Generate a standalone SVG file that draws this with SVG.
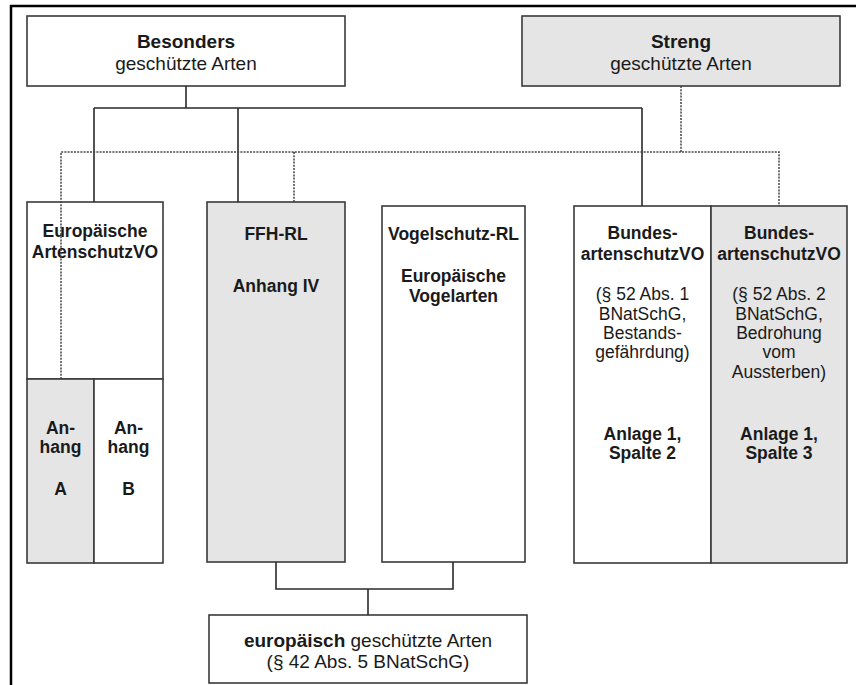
<svg xmlns="http://www.w3.org/2000/svg" width="856" height="685" viewBox="0 0 856 685">
<style>
text{font-family:"Liberation Sans",Arial,sans-serif;fill:#1a1a1a;text-anchor:middle}
.b{font-weight:bold}
.t{font-size:19px}
.m{font-size:17.5px}
.box{stroke:#3a3a3a;stroke-width:1.6;fill:#fff}
.g{fill:#e5e5e5}
.solid{stroke:#2a2a2a;stroke-width:1.6;fill:none}
.dot{stroke:#444;stroke-width:1.5;fill:none;stroke-dasharray:2 1.2}
</style>
<rect width="856" height="685" fill="#fff"/>
<g id="frame"><path d="M11,685 V6 H856" fill="none" stroke="#000" stroke-width="2.5"/></g>

<g id="besonders">
<rect class="box" x="27" y="16" width="318" height="70"/>
<text class="t b" x="186" y="48">Besonders</text>
<text class="t" x="186" y="70">geschützte Arten</text>
</g>
<g id="streng">
<rect class="box g" x="522" y="16" width="318" height="70"/>
<text class="t b" x="681" y="48">Streng</text>
<text class="t" x="681" y="70">geschützte Arten</text>
</g>

<g id="eu-artenschutz">
<rect class="box" x="27" y="202" width="136" height="177"/>
<text class="m b" x="95" y="237">Europäische</text>
<text class="m b" x="95" y="258">ArtenschutzVO</text>
</g>
<g id="anhang-a">
<rect class="box g" x="27" y="379" width="67" height="184"/>
<text class="m b" x="60.5" y="434">An-</text>
<text class="m b" x="60.5" y="453">hang</text>
<text class="m b" x="60.5" y="495">A</text>
</g>
<g id="anhang-b">
<rect class="box" x="94" y="379" width="69" height="184"/>
<text class="m b" x="128.5" y="434">An-</text>
<text class="m b" x="128.5" y="453">hang</text>
<text class="m b" x="128.5" y="495">B</text>
</g>
<g id="ffh">
<rect class="box g" x="207" y="202" width="138" height="360"/>
<text class="m b" x="276" y="240">FFH-RL</text>
<text class="m b" x="276" y="292">Anhang IV</text>
</g>
<g id="vogelschutz">
<rect class="box" x="382" y="206" width="143" height="356"/>
<text class="m b" x="453.5" y="240">Vogelschutz-RL</text>
<text class="m b" x="453.5" y="282">Europäische</text>
<text class="m b" x="453.5" y="302">Vogelarten</text>
</g>
<g id="bundes1">
<rect class="box" x="574" y="206" width="137" height="357"/>
<text class="m b" x="642.5" y="239">Bundes-</text>
<text class="m b" x="642.5" y="260">artenschutzVO</text>
<text class="m" x="642.5" y="300">(§ 52 Abs. 1</text>
<text class="m" x="642.5" y="320">BNatSchG,</text>
<text class="m" x="642.5" y="339">Bestands-</text>
<text class="m" x="642.5" y="358">gefährdung)</text>
<text class="m b" x="642.5" y="440">Anlage 1,</text>
<text class="m b" x="642.5" y="459">Spalte 2</text>
</g>
<g id="bundes2">
<rect class="box g" x="711" y="206" width="136" height="357"/>
<text class="m b" x="779" y="239">Bundes-</text>
<text class="m b" x="779" y="260">artenschutzVO</text>
<text class="m" x="779" y="300">(§ 52 Abs. 2</text>
<text class="m" x="779" y="320">BNatSchG,</text>
<text class="m" x="779" y="339">Bedrohung</text>
<text class="m" x="779" y="358">vom</text>
<text class="m" x="779" y="378">Aussterben)</text>
<text class="m b" x="779" y="440">Anlage 1,</text>
<text class="m b" x="779" y="459">Spalte 3</text>
</g>
<g id="europaeisch">
<rect class="box" x="209" y="615" width="318" height="68"/>
<text class="t" x="368" y="647"><tspan class="b">europäisch</tspan> geschützte Arten</text>
<text class="t" x="368" y="668">(§ 42 Abs. 5 BNatSchG)</text>
</g>

<g id="connectors">
<path class="solid" d="M186,86 V108 M94,108 H642 M94,108 V202 M238,108 V202 M642,108 V206"/>
<path class="dot" d="M681,86 V152" stroke-width="2.2"/>
<path class="dot" d="M61,379 V152 H779 V206 M294,152 V202"/>
<path class="solid" d="M276,562 V589 H453 V562 M368,589 V615"/>
</g>
</svg>
